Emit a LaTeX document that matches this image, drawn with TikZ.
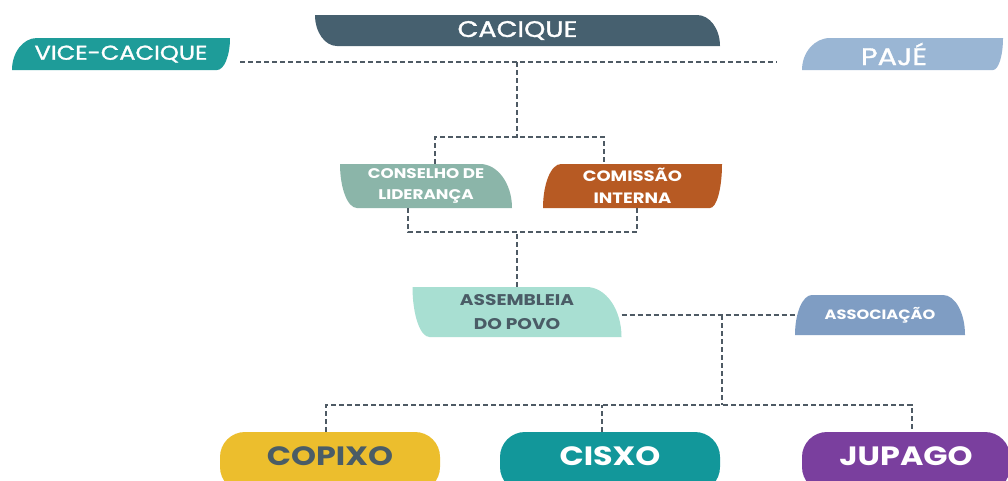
\documentclass[tikz,border=0pt]{standalone}
\usepackage{fontspec}
\setmainfont{Poppins}[FakeStretch=1.2]
\newfontfamily\headfont{Poppins}[FakeStretch=1.2, FakeBold=1.4]
\usetikzlibrary{calc, positioning}

\definecolor{viceteal}{HTML}{1E9C99}
\definecolor{caciqueslate}{HTML}{46606F}
\definecolor{pajeblue}{HTML}{9AB6D4}
\definecolor{conselhogreen}{HTML}{8BB5A9}
\definecolor{comissaorust}{HTML}{B75A23}
\definecolor{assembleiamint}{HTML}{A8DFD2}
\definecolor{associacaoblue}{HTML}{7F9DC3}
\definecolor{copixoyellow}{HTML}{ECBE2D}
\definecolor{cisxoteal}{HTML}{12979A}
\definecolor{jupagopurple}{HTML}{7A3F9E}
\definecolor{linegray}{HTML}{4E5A64}
\definecolor{darktext}{HTML}{4A5C66}

\begin{document}
\begin{tikzpicture}[x=1pt, y=-1pt,
        box/.style={inner sep=0pt, text=white, align=center, font=\bfseries\fontsize{14}{21}\selectfont},
        leafa/.style n args={3}{box, path picture={
            \fill[#1] let \p1=(path picture bounding box.south west), \p2=(path picture bounding box.north east), \n1={\y2-\y1} in
            (\x1,\y2) -- ({\x2-#3pt},\y2) arc[start angle=90, end angle=0, x radius=#3pt, y radius=\n1]
            -- ({\x1+#2pt},\y1) arc[start angle=270, end angle=180, x radius=#2pt, y radius=\n1] -- cycle;}},
        leafb/.style n args={3}{box, path picture={
            \fill[#1] let \p1=(path picture bounding box.south west), \p2=(path picture bounding box.north east), \n1={\y2-\y1} in
            (\x1,\y1) arc[start angle=180, end angle=90, x radius=#2pt, y radius=\n1]
            -- (\x2,\y2) arc[start angle=0, end angle=-90, x radius=#3pt, y radius=\n1] -- cycle;}},
        tab/.style n args={3}{box, path picture={
            \fill[#1] let \p1=(path picture bounding box.south west), \p2=(path picture bounding box.north east), \n1={\y2-\y1} in
            (\x1,\y1) arc[start angle=180, end angle=90, x radius=#2pt, y radius=\n1]
            -- ({\x2-#3pt},\y2) arc[start angle=90, end angle=0, x radius=#3pt, y radius=\n1] -- cycle;}},
        pill/.style={box, rounded corners=25pt, minimum width=220pt, minimum height=60pt,
            text height=18pt, text depth=12pt, font=\bfseries\fontsize{26.5}{26.5}\selectfont},
        link/.style={linegray, line width=1.8pt, dash pattern=on 5pt off 3pt}
    ]
    \useasboundingbox[fill=white] (0,0) rectangle (1008,480);
    \clip (0,0) rectangle (1008,480);

    % top row
    \node[leafb={viceteal}{25}{13}, minimum width=218pt, minimum height=32pt,
        font=\headfont\fontsize{20}{20}\selectfont] (vice) at (121,54) {VICE-CACIQUE};
    \node[leafa={caciqueslate}{22}{23}, minimum width=405pt, minimum height=31pt,
        font=\headfont\fontsize{22.5}{22.5}\selectfont] (cacique) at (517.5,30.5) {CACIQUE};
    \node[leafb={pajeblue}{28}{10}, minimum width=201pt, minimum height=32pt,
        font=\headfont\fontsize{24}{24}\selectfont] (paje) at (902.5,54) {PAJÉ\hspace*{17pt}};

    % middle
    \node[leafa={conselhogreen}{17}{32}, minimum width=172pt, minimum height=44pt]
        (conselho) at (426,186) {CONSELHO DE\\LIDERANÇA};
    \node[leafb={comissaorust}{18}{12}, minimum width=179pt, minimum height=44pt,
        font=\bfseries\fontsize{15}{22}\selectfont] (comissao) at (632.5,186) {COMISSÃO\\INTERNA};
    \node[leafa={assembleiamint}{17}{35}, minimum width=209pt, minimum height=50pt, text=darktext,
        font=\bfseries\fontsize{15.5}{24}\selectfont] (assembleia) at (517,312) {ASSEMBLEIA\\DO POVO};
    \node[tab={associacaoblue}{17}{22}, minimum width=170pt, minimum height=40pt,
        font=\bfseries\fontsize{13.5}{13.5}\selectfont] (associacao) at (880,315) {ASSOCIAÇÃO};

    % bottom row
    \node[pill, fill=copixoyellow, text=darktext] (copixo) at (330,462) {COPIXO};
    \node[pill, fill=cisxoteal] (cisxo) at (610,462) {CISXO};
    \node[pill, fill=jupagopurple, minimum width=208pt] (jupago) at (906,462) {JUPAGO};

    % connectors
    \coordinate (hub1) at (517,62);
    \coordinate (hub2) at (722,315);
    \draw[link] ([xshift=10pt,yshift=-8pt]vice.east) -- ([xshift=-25pt,yshift=-8pt]paje.west);
    \draw[link] (hub1) -- ++(0,75) coordinate (fork1);
    \draw[link] ([xshift=9pt]conselho.north) |- (fork1) -| ([xshift=-28.5pt]comissao.north);
    \draw[link] ([xshift=-18pt]conselho.south) -- ++(0,24) -| ([xshift=4.5pt]comissao.south);
    \draw[link] (assembleia.north) -- ++(0,-55);
    \draw[link] (assembleia.east |- associacao.west) -- (associacao.west);
    \draw[link] (hub2) -- ++(0,90) coordinate (fork2);
    \draw[link] ([xshift=-4pt]copixo.north) |- (fork2) -| ([xshift=6pt]jupago.north);
    \draw[link] ([xshift=-8pt]cisxo.north) -- ([xshift=-8pt]cisxo.north |- fork2);

\end{tikzpicture}
\end{document}
